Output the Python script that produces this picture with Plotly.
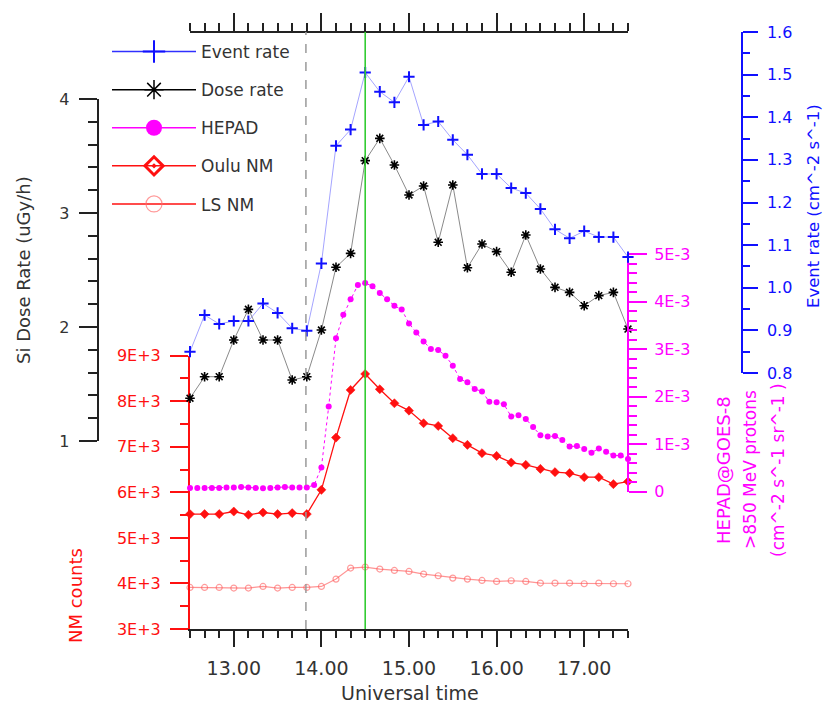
import plotly.graph_objects as go

# ---------------- data ----------------
time_10min = ["12:30", "12:40", "12:50", "13:00", "13:10", "13:20", "13:30", "13:40", "13:50",
              "14:00", "14:10", "14:20", "14:30", "14:40", "14:50", "15:00", "15:10", "15:20",
              "15:30", "15:40", "15:50", "16:00", "16:10", "16:20", "16:30", "16:40", "16:50",
              "17:00", "17:10", "17:20", "17:30"]

time_5min = ["12:30", "12:35", "12:40", "12:45", "12:50", "12:55", "13:00", "13:05", "13:10",
             "13:15", "13:20", "13:25", "13:30", "13:35", "13:40", "13:45", "13:50", "13:55",
             "14:00", "14:05", "14:10", "14:15", "14:20", "14:25", "14:30", "14:35", "14:40",
             "14:45", "14:50", "14:55", "15:00", "15:05", "15:10", "15:15", "15:20", "15:25",
             "15:30", "15:35", "15:40", "15:45", "15:50", "15:55", "16:00", "16:05", "16:10",
             "16:15", "16:20", "16:25", "16:30", "16:35", "16:40", "16:45", "16:50", "16:55",
             "17:00", "17:05", "17:10", "17:15", "17:20", "17:25", "17:30"]

event_rate = [0.850, 0.936, 0.915, 0.922, 0.922, 0.963, 0.941, 0.905, 0.899, 1.057, 1.333,
              1.371, 1.505, 1.460, 1.435, 1.495, 1.382, 1.390, 1.347, 1.312, 1.267, 1.267,
              1.234, 1.222, 1.185, 1.137, 1.116, 1.133, 1.119, 1.119, 1.072]

dose_rate = [1.375, 1.564, 1.564, 1.886, 2.155, 1.886, 1.886, 1.535, 1.564, 1.974, 2.524,
             2.646, 3.459, 3.655, 3.421, 3.158, 3.237, 2.743, 3.246, 2.520, 2.728, 2.661,
             2.480, 2.807, 2.509, 2.348, 2.304, 2.187, 2.275, 2.304, 1.982]

hepad_e3 = [0.08, 0.08, 0.08, 0.08, 0.08, 0.09, 0.09, 0.10, 0.09, 0.08, 0.07, 0.08, 0.09,
            0.10, 0.09, 0.09, 0.09, 0.14, 0.51, 1.79, 3.23, 3.72, 4.05, 4.35, 4.39, 4.32,
            4.18, 4.05, 3.91, 3.83, 3.54, 3.35, 3.16, 3.00, 2.98, 2.86, 2.65, 2.37, 2.30,
            2.16, 2.11, 1.89, 1.88, 1.84, 1.58, 1.61, 1.53, 1.36, 1.19, 1.16, 1.17, 1.09,
            0.95, 0.96, 0.90, 0.82, 0.91, 0.84, 0.76, 0.76, 0.69]

oulu_nm = [5522, 5522, 5522, 5579, 5507, 5557, 5522, 5544, 5522, 6055, 7202, 8248, 8599,
           8263, 7956, 7794, 7518, 7458, 7189, 7042, 6860, 6800, 6654, 6603, 6515, 6443,
           6421, 6333, 6333, 6180, 6237]

ls_nm = [3912, 3912, 3912, 3899, 3899, 3934, 3899, 3912, 3912, 3934, 4096, 4338, 4360,
         4316, 4285, 4263, 4206, 4169, 4118, 4096, 4066, 4044, 4059, 4044, 4009, 4009,
         4009, 3993, 4009, 3993, 3993]

nm_ticks = [3000, 4000, 5000, 6000, 7000, 8000, 9000]
nm_ticktext = ["3E+3", "4E+3", "5E+3", "6E+3", "7E+3", "8E+3", "9E+3"]
hepad_ticks = [0, 0.001, 0.002, 0.003, 0.004, 0.005]
hepad_ticktext = ["0", "1E-3", "2E-3", "3E-3", "4E-3", "5E-3"]

onset_time = "13:50"
peak_time = "14:30"


def to_hours(s):
    h, m = s.split(":")
    return int(h) + int(m) / 60.0


tx10 = [to_hours(s) for s in time_10min]
tx5 = [to_hours(s) for s in time_5min]
hepad = [v * 1e-3 for v in hepad_e3]

# ---------------- geometry helpers ----------------
W, H = 825, 703
ML, MR, MT, MB = 0, 0, 32, 74
PW = W - ML - MR
PH = H - MT - MB


def fx(px):
    return (px - ML) / PW


def fy(py):
    return (H - MB - py) / PH


FONT = "DejaVu Sans"
BLUE = "#1010ff"
RED = "#ff1010"
MAG = "#ff00ff"
DARK = "#222222"

fig = go.Figure()

# ---------------- data traces ----------------
fig.add_trace(go.Scatter(
    x=tx10, y=ls_nm, xaxis="x", yaxis="y", mode="lines+markers", showlegend=False,
    line=dict(color="rgba(255,60,60,0.55)", width=1.2),
    marker=dict(symbol="circle-open", size=6, color="rgba(255,90,90,0.6)", line=dict(width=1.2)),
    cliponaxis=False))

fig.add_trace(go.Scatter(
    x=tx10, y=oulu_nm, xaxis="x", yaxis="y", mode="lines+markers", showlegend=False,
    line=dict(color=RED, width=1.3),
    marker=dict(symbol="diamond", size=7, color=RED, line=dict(width=0.5, color=RED)),
    cliponaxis=False))

fig.add_trace(go.Scatter(
    x=tx5, y=hepad, xaxis="x", yaxis="y4", mode="lines+markers", showlegend=False,
    line=dict(color=MAG, width=1, dash="dot"),
    marker=dict(symbol="circle", size=6, color=MAG),
    cliponaxis=False))

fig.add_trace(go.Scatter(
    x=tx10, y=dose_rate, xaxis="x", yaxis="y2", mode="lines+markers", showlegend=False,
    line=dict(color="#8a8a8a", width=1),
    marker=dict(symbol="asterisk-open", size=8, color="black", line=dict(width=1.6, color="black")),
    cliponaxis=False))

fig.add_trace(go.Scatter(
    x=tx10, y=event_rate, xaxis="x2", yaxis="y3", mode="lines+markers", showlegend=False,
    line=dict(color="rgba(90,90,255,0.55)", width=1),
    marker=dict(symbol="cross-thin-open", size=8, color=BLUE, line=dict(width=2, color=BLUE)),
    cliponaxis=False))

# ---------------- legend entries ----------------
legend_items = [
    ("Event rate", dict(symbol="cross-thin-open", size=16, color=BLUE, line=dict(width=2, color=BLUE)),
     dict(color="#3030ff", width=1.5)),
    ("Dose rate", dict(symbol="asterisk-open", size=16, color="black", line=dict(width=1.5, color="black")),
     dict(color="black", width=1.5)),
    ("HEPAD", dict(symbol="circle", size=16, color=MAG), dict(color=MAG, width=1.5)),
    ("Oulu NM", dict(symbol="diamond-open-dot", size=14, color=RED, line=dict(width=3, color=RED)),
     dict(color=RED, width=1.5)),
    ("LS NM", dict(symbol="circle-open", size=16, color="rgba(255,110,110,0.7)",
                   line=dict(width=1.2, color="rgba(255,110,110,0.7)")),
     dict(color=RED, width=1.5)),
]
for i, (name, mk, ln) in enumerate(legend_items):
    fig.add_trace(go.Scatter(x=[None], y=[None], xaxis="x", yaxis="y", name=name,
                             mode="lines+markers", marker=mk, line=ln,
                             legendgroup="g%d" % i, showlegend=True))

# ---------------- axes ----------------
xdom = [fx(190), fx(628)]
common_x = dict(range=[12.5, 17.5], autorange=False, showgrid=False, zeroline=False,
                showline=True, linecolor=DARK, linewidth=2, ticks="outside",
                tickcolor=DARK, tickwidth=2, tickmode="linear", tick0=13, dtick=1,
                domain=xdom)

fig.update_layout(
    xaxis=dict(**common_x, anchor="y", ticklen=16, tickformat=".2f",
               tickfont=dict(family=FONT, size=19, color="#333"), ticklabelstandoff=5,
               minor=dict(tickmode="linear", tick0=12.5, dtick=1 / 6, ticks="outside",
                          ticklen=7, tickwidth=1.5, tickcolor=DARK)),
    xaxis2=dict(**common_x, anchor="free", position=1, side="top", ticklen=18,
                showticklabels=False,
                minor=dict(tickmode="linear", tick0=12.5, dtick=1 / 6, ticks="outside",
                           ticklen=8, tickwidth=1.5, tickcolor=DARK)),
    yaxis=dict(domain=[0, fy(355.7)], range=[3000, 9000], autorange=False, anchor="x",
               side="left", showgrid=False, zeroline=False, showline=True, linecolor=RED,
               linewidth=2, ticks="outside", ticklen=18, tickwidth=2, tickcolor=RED,
               tickmode="array", tickvals=nm_ticks, ticktext=nm_ticktext,
               tickfont=dict(family=FONT, size=16, color=RED), ticklabelstandoff=6,
               minor=dict(tickmode="linear", tick0=3000, dtick=500, ticks="outside",
                          ticklen=8, tickwidth=1.5, tickcolor=RED)),
    yaxis2=dict(domain=[fy(441), fy(99)], range=[1, 4], autorange=False, anchor="free",
                position=fx(97.7), side="left", showgrid=False, zeroline=False,
                showline=True, linecolor=DARK, linewidth=2, ticks="outside", ticklen=18,
                tickwidth=2, tickcolor=DARK, tickmode="linear", tick0=1, dtick=1,
                tickformat="d", tickfont=dict(family=FONT, size=16, color="#333"),
                ticklabelstandoff=6,
                minor=dict(tickmode="linear", tick0=1, dtick=0.2, ticks="outside",
                           ticklen=9, tickwidth=1.5, tickcolor=DARK)),
    yaxis3=dict(domain=[fy(373), 1], range=[0.8, 1.6], autorange=False, anchor="free",
                position=fx(741.7), side="right", showgrid=False, zeroline=False,
                showline=True, linecolor=BLUE, linewidth=2, ticks="outside", ticklen=15,
                tickwidth=2, tickcolor=BLUE, tickmode="linear", tick0=0.8, dtick=0.1,
                tickformat=".1f", tickfont=dict(family=FONT, size=16, color=BLUE),
                ticklabelstandoff=6,
                minor=dict(tickmode="linear", tick0=0.8, dtick=0.05, ticks="outside",
                           ticklen=7, tickwidth=1.5, tickcolor=BLUE)),
    yaxis4=dict(domain=[fy(491.7), fy(254)], range=[0, 0.005], autorange=False,
                anchor="free", position=fx(628), side="right", showgrid=False,
                zeroline=False, showline=True, linecolor=MAG, linewidth=2,
                ticks="outside", ticklen=18, tickwidth=2, tickcolor=MAG,
                tickmode="array", tickvals=hepad_ticks, ticktext=hepad_ticktext,
                tickfont=dict(family=FONT, size=16, color=MAG), ticklabelstandoff=4,
                minor=dict(tickmode="linear", tick0=0, dtick=0.0002, ticks="outside",
                           ticklen=8, tickwidth=1.5, tickcolor=MAG)),
)

# ---------------- reference lines ----------------
fig.add_shape(type="line", xref="x", yref="paper", x0=to_hours(onset_time) - 0.01,
              x1=to_hours(onset_time) - 0.01, y0=0, y1=1,
              line=dict(color="#9a9a9a", width=1.5, dash="dash"))
fig.add_shape(type="line", xref="x", yref="paper", x0=to_hours(peak_time),
              x1=to_hours(peak_time), y0=0, y1=1,
              line=dict(color="#33cc33", width=1.6))

# ---------------- titles ----------------
ann = [
    dict(text="Si Dose Rate (uGy/h)", x=fx(23), y=fy(270), textangle=-90,
         font=dict(family=FONT, size=18, color="#333")),
    dict(text="NM counts", x=fx(75), y=fy(596), textangle=-90,
         font=dict(family=FONT, size=18, color=RED)),
    dict(text="Event rate (cm^-2 s^-1)", x=fx(813), y=fy(206), textangle=-90,
         font=dict(family=FONT, size=16.5, color=BLUE)),
    dict(text="HEPAD@GOES-8", x=fx(723), y=fy(470), textangle=-90,
         font=dict(family=FONT, size=18, color=MAG)),
    dict(text=">850 MeV protons", x=fx(750), y=fy(470), textangle=-90,
         font=dict(family=FONT, size=17, color=MAG)),
    dict(text="(cm^-2 s^-1 sr^-1 )", x=fx(778), y=fy(470), textangle=-90,
         font=dict(family=FONT, size=17, color=MAG)),
    dict(text="Universal time", x=fx(409.5), y=fy(693),
         font=dict(family=FONT, size=19, color="#333")),
]
for a in ann:
    fig.add_annotation(xref="paper", yref="paper", showarrow=False,
                       xanchor="center", yanchor="middle", **a)

fig.update_layout(
    width=W, height=H,
    margin=dict(l=ML, r=MR, t=MT, b=MB, pad=0, autoexpand=False),
    paper_bgcolor="white", plot_bgcolor="rgba(0,0,0,0)",
    font=dict(family=FONT, color="#333"),
    showlegend=True,
    legend=dict(x=fx(107), y=fy(34), xanchor="left", yanchor="top",
                bgcolor="rgba(0,0,0,0)", borderwidth=0,
                font=dict(family=FONT, size=17, color="#333"),
                itemwidth=84, tracegroupgap=13, itemsizing="trace"),
)

fig.write_html("out.html")
